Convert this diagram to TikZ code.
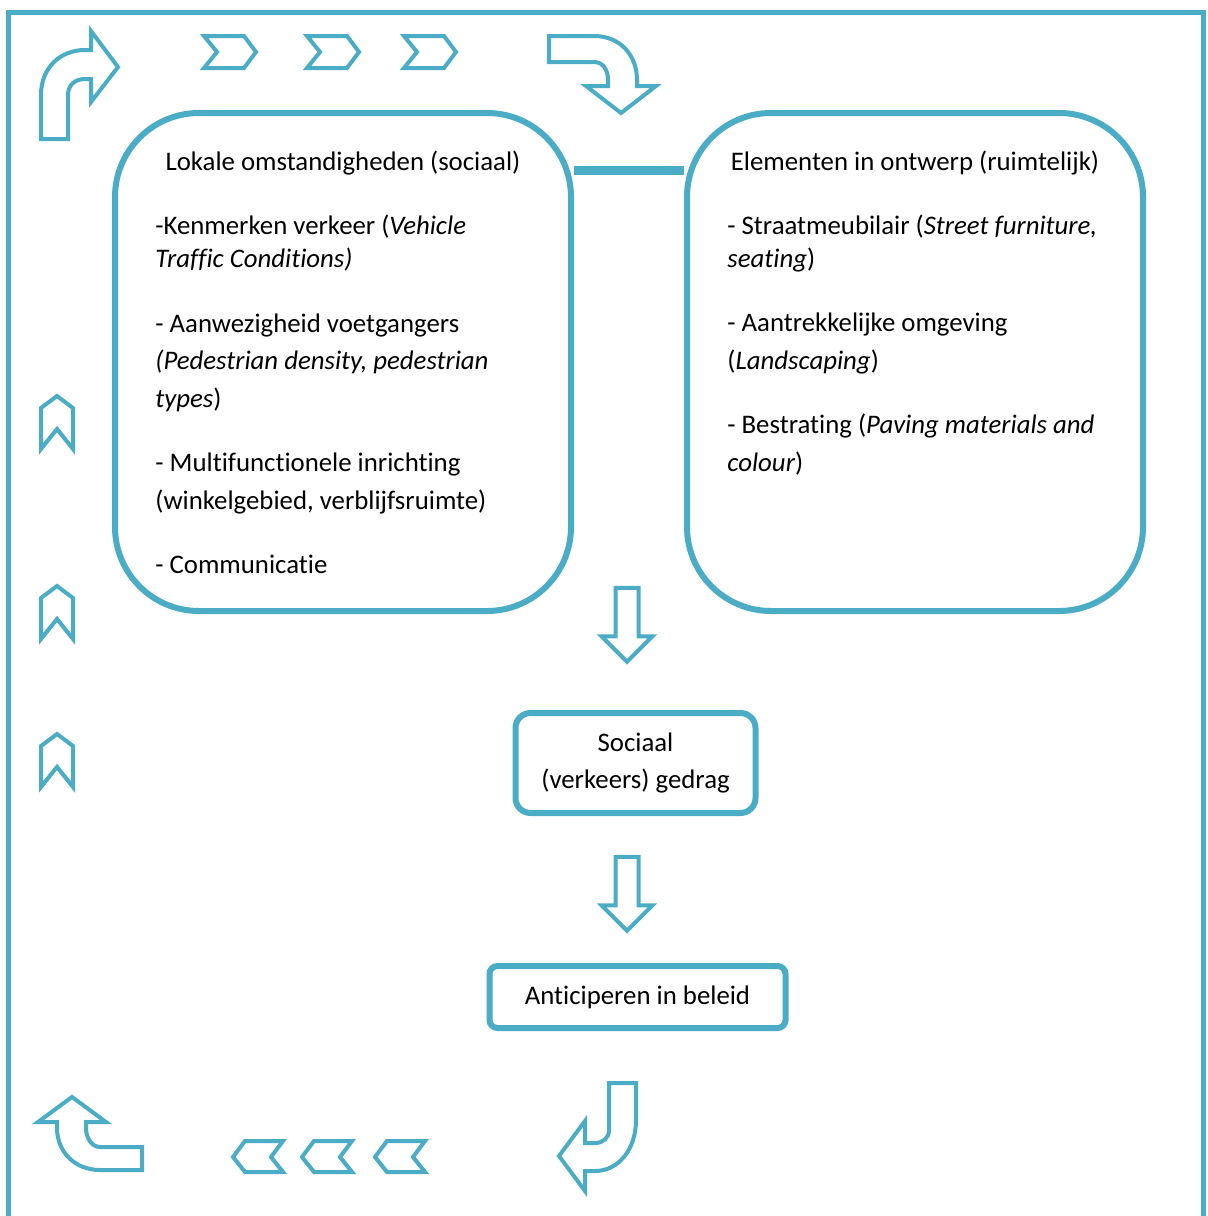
\documentclass[tikz,border=0pt]{standalone}
\usepackage{fontspec}
\setmainfont[Ligatures=NoCommon]{Carlito}
\usetikzlibrary{shapes.arrows,backgrounds,positioning}
\definecolor{accent}{HTML}{4BACC6}

\tikzset{
  outerframe/.style={draw=accent,line width=2.5pt},
  bigbox/.style={draw=accent,line width=3pt,fill=white,rounded corners=42pt,
    minimum width=228pt,minimum height=249pt},
  smallbox/.style={draw=accent,line width=3pt,fill=white,align=center},
  txt/.style={anchor=base west,align=left,inner sep=0pt},
  outline/.style={draw=accent,line width=2pt,line join=miter},
  downarrow/.style={single arrow,draw=accent,line width=2pt,rotate=-90,
    minimum height=37pt,inner sep=0pt,inner ysep=4.75pt,text height=0pt,text depth=0pt,
    single arrow head extend=7pt},
  pics/chevright/.style={code={
    \draw[outline] (0,0) -- (40,0) -- (52,16) -- (40,32) -- (0,32) -- (13,16) -- cycle;}},
  pics/chevleft/.style={code={
    \draw[outline] (0,16) -- (12,0) -- (50,0) -- (38,16) -- (50,31) -- (12,31) -- cycle;}},
  pics/chevup/.style={code={
    \draw[outline] (16,0) -- (32,12) -- (32,53) -- (16,33) -- (0,53) -- (0,12) -- cycle;}}
}

\begin{document}
\begin{tikzpicture}[x=0.5pt,y=-0.5pt,font=\fontsize{13.4pt}{18.75pt}\selectfont]
  \useasboundingbox (0,0) rectangle (1208,1216);

  % outer frame
  \draw[outerframe] (8,1216) -- (8,12) -- (1203,12) -- (1203,1216);

  % the two main blocks
  \node[bigbox] (lokaal) at (343,362) {};
  \node[bigbox] (ontwerp) at (915,362) {};
  \begin{scope}[on background layer]
    \draw[accent,line width=4.5pt] ([yshift=-30pt]lokaal.north east) -- ([yshift=-30pt]ontwerp.north west);
  \end{scope}

  % text, anchored on the last line
  \node[anchor=base] (titel1) at (343,170) {Lokale omstandigheden (sociaal)};
  \node[txt] (verkeer) at (155,267) {-Kenmerken verkeer (\textit{Vehicle}\\[-2.25pt]\textit{Traffic Conditions)}};
  \node[txt] (voetganger) at (155,407) {- Aanwezigheid voetgangers\\\textit{(Pedestrian density, pedestrian}\\\textit{types})};
  \node[txt] (inrichting) at (155,509) {- Multifunctionele inrichting\\(winkelgebied, verblijfsruimte)};
  \node[txt] (communicatie) at (155,573) {- Communicatie};

  \node[anchor=base] (titel2) at (915,170) {Elementen in ontwerp (ruimtelijk)};
  \node[txt] (meubilair) at (727,267) {- Straatmeubilair (\textit{Street furniture,}\\[-2.25pt]\textit{seating})};
  \node[txt] (omgeving) at (727,369) {- Aantrekkelijke omgeving\\(\textit{Landscaping})};
  \node[txt] (bestrating) at (727,471) {- Bestrating (\textit{Paving materials and}\\\textit{colour})};

  % flow downwards
  \node[smallbox,rounded corners=7.5pt,minimum width=120pt,minimum height=50pt] (gedrag) at (635.5,763) {Sociaal\\(verkeers) gedrag};
  \node[smallbox,rounded corners=4pt,minimum width=148pt,minimum height=31pt] (beleid) at (637.5,997) {Anticiperen in beleid};
  \node[downarrow] (pijl1) at (627,619) {};
  \node[downarrow] (pijl2) at (627,888) {};

  % cycle arrows round the scheme
  \draw[outline] (41,139) -- (41,95) .. controls (41,68) and (60,50) .. (85,50) -- (91,50) -- (91,31)
    -- (118,67) -- (91,102) -- (91,79) -- (85,79) .. controls (75,79) and (68,85) .. (68,95) -- (68,139) -- cycle;
  \pic at (204,36) {chevright};
  \pic at (307,36) {chevright};
  \pic at (404,36) {chevright};
  \draw[outline] (549,36) -- (594,36) .. controls (620,36) and (637,55) .. (637,80) -- (637,86) -- (656,86)
    -- (621,113) -- (586,86) -- (608,86) -- (608,80) .. controls (608,70) and (603,62) .. (594,62) -- (549,62) -- cycle;

  \draw[outline] (609,1083) -- (636,1083) -- (636,1120) .. controls (636,1150) and (618,1171) .. (595,1171)
    -- (585,1171) -- (585,1191) -- (559,1156) -- (585,1121) -- (585,1143) -- (595,1143)
    .. controls (603,1143) and (609,1138) .. (609,1130) -- cycle;
  \pic at (375,1141) {chevleft};
  \pic at (302,1141) {chevleft};
  \pic at (233,1141) {chevleft};
  \draw[outline] (142,1147) -- (100,1147) .. controls (92,1147) and (86,1138) .. (86,1128) -- (86,1122)
    -- (106,1122) -- (72,1097) -- (38,1122) -- (57,1122) -- (57,1128) .. controls (57,1152) and (75,1170) .. (100,1170)
    -- (142,1170) -- cycle;
  \pic at (41,734) {chevup};
  \pic at (41,586) {chevup};
  \pic at (41,396) {chevup};
\end{tikzpicture}
\end{document}
